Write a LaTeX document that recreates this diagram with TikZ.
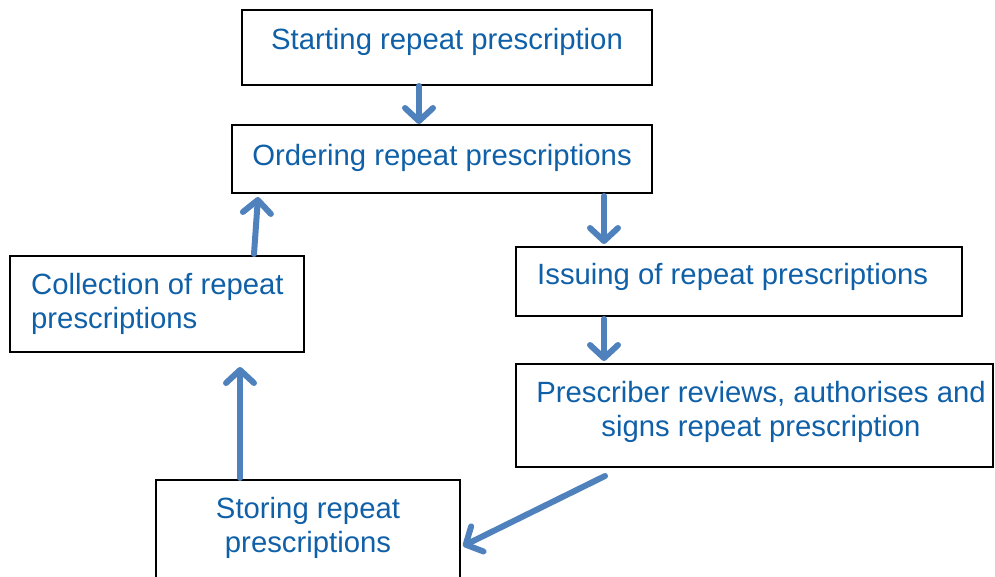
\documentclass[tikz,border=0pt]{standalone}
\usepackage{fontspec}
\setmainfont{Liberation Sans}
\usetikzlibrary{arrows.meta}
\definecolor{txtblue}{HTML}{1060A8}
\definecolor{arrblue}{HTML}{4F81BD}
\begin{document}
\begin{tikzpicture}[x=1pt,y=-1pt,
  box/.style={draw=black,line width=1.2pt,inner sep=0pt},
  lbl/.style={inner sep=0pt,text=txtblue,font=\fontsize{29.3}{33.5}\selectfont},
  flow/.style={draw=arrblue,line width=6pt,line cap=round,
    -{Straight Barb[length=13pt,width=28pt,round]}}]
\useasboundingbox (0,0) rectangle (995,576);
% boxes
\draw[box] (242,10) rectangle (652,85);
\draw[box] (232,125) rectangle (652,193);
\draw[box] (10,256) rectangle (304,352);
\draw[box] (516,247) rectangle (962,316);
\draw[box] (516,364) rectangle (993,467);
\draw[box] (156,480) rectangle (460,600);
% named anchors of the boxes
\coordinate (b1s) at (419,86);
\coordinate (b2n) at (419,124);
\coordinate (b2s) at (604,196);
\coordinate (b4n) at (604,244);
\coordinate (b4s) at (604,319);
\coordinate (b5n) at (604,361);
\coordinate (b5s) at (605,476);
\coordinate (b6e) at (463,546);
\coordinate (b6n) at (240,478);
\coordinate (b3s) at (240,367);
\coordinate (b3n) at (254,254);
\coordinate (b2w) at (258,197);
% texts
\node[lbl] (t1) at (447,42) {Starting repeat prescription};
\node[lbl] (t2) at (442,158) {Ordering repeat prescriptions};
\node[lbl,anchor=west,align=left] (t3) at (31,304) {Collection of repeat\\prescriptions};
\node[lbl,anchor=west] (t4) at (537,277) {Issuing of repeat prescriptions};
\node[lbl,align=center] (t5) at (761,412) {Prescriber reviews, authorises and\\signs repeat prescription};
\node[lbl,align=center] (t6) at (308,528) {Storing repeat\\prescriptions};
% arrows
\draw[flow] (b1s) -- (b2n);
\draw[flow] (b2s) -- (b4n);
\draw[flow] (b4s) -- (b5n);
\draw[flow] (b5s) -- (b6e);
\draw[flow] (b6n) -- (b3s);
\draw[flow] (b3n) -- (b2w);
\end{tikzpicture}
\end{document}
